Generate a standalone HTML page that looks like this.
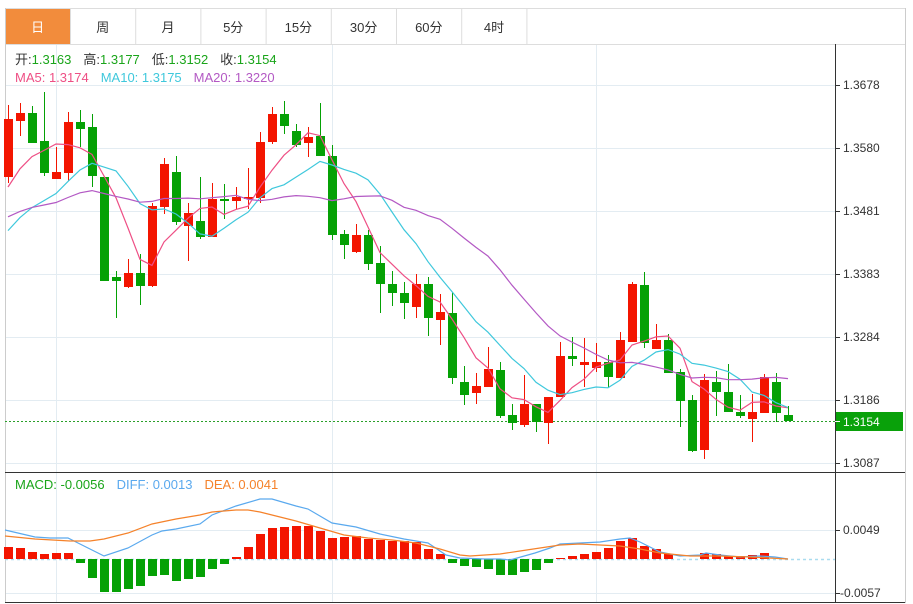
<!DOCTYPE html>
<html><head><meta charset="utf-8"><style>
body{margin:0;width:913px;height:604px;overflow:hidden;background:#fff;font-family:"Liberation Sans","Noto Sans CJK SC",sans-serif;}
svg{position:absolute;left:0;top:0}
</style></head><body>
<svg id="s" width="913" height="604" xmlns="http://www.w3.org/2000/svg" font-family="Liberation Sans, Noto Sans CJK SC, sans-serif"></svg>
<script>
var C=[
[177,119,105,183],[121,113,103,136],[113,143,106,143],[141,173,92,176],[179,172,147,179],[173,122,112,181],
[122,129,110,147],[127,176,114,187],[177,281,177,281],[277,281,271,318],[287,273,259,288],[273,286,254,305],
[286,206,203,287],[207,164,158,214],[172,222,156,225],[226,213,203,261],[221,237,177,239],[237,199,183,237],
[199,201,184,219],[201,197,187,209],[199,197,168,209],[198,142,132,203],[142,114,107,144],[114,126,101,134],
[131,145,124,147],[143,137,127,157],[136,156,103,156],[156,235,145,240],[234,245,230,259],[252,235,224,253],
[235,264,230,270],[263,284,246,313],[284,293,271,306],[293,303,282,319],[307,284,274,318],[284,318,277,336],
[320,312,294,345],[313,378,292,384],[382,395,366,405],[393,386,373,404],[387,369,347,387],[370,416,362,418],
[415,423,404,430],[425,404,375,427],[404,422,404,432],[423,397,397,444],[397,356,342,397],[356,359,337,366],
[365,362,338,387],[368,362,343,372],[362,377,355,388],[378,340,332,378],[342,284,282,342],[285,343,272,348],
[349,340,324,349],[340,373,334,373],[372,401,369,427],[400,451,395,452],[450,380,374,459],[382,392,371,416],
[392,412,364,412],[412,416,395,418],[419,412,394,442],[413,377,374,413],[382,413,373,422],[415,421,406,421]];
var H=[547,548,552,554,553,553,563,578,592,592,589,586,576,575,581,579,577,569,564,557,547,534,528,527,526,526,531,538,537,536,539,540,541,541,542,549,554,563,566,567,569,575,575,572,570,563,558,556,554,552,548,541,538,546,549,554,559,559.5,553,554,556,556,555,553,559,559];
var DIFF=[[5,530],[35,537],[50,538],[68,538],[82,545],[104,556],[128,548],[152,535],[162,531],[176,529],[200,524],[212,515],[236,506],[260,499],[272,499],[296,506],[308,509],[332,523],[356,527],[380,534],[404,539],[428,543],[446,555],[460,558],[485,559],[500,559],[510,560],[535,553],[550,548],[560,544],[600,542],[620,539],[630,538],[640,542],[660,552],[680,556],[700,555],[706,553],[720,555],[740,557],[760,556],[775,557],[788,559]];
var DEA=[[5,536],[35,539],[70,541],[90,541],[104,539],[128,533],[152,524],[176,519],[200,515],[212,512],[236,510],[248,510],[260,512],[272,515],[296,521],[320,528],[344,535],[368,538],[392,540],[416,543],[440,549],[460,555],[470,556],[500,554],[520,551],[540,548],[560,545],[580,544],[600,545],[620,546],[640,549],[660,553],[690,556],[720,556],[750,557],[788,559]];
var o='';
function L(x1,y1,x2,y2,c,w,d){o+='<line x1="'+x1+'" y1="'+y1+'" x2="'+x2+'" y2="'+y2+'" stroke="'+c+'" stroke-width="'+(w||1)+'"'+(d?' stroke-dasharray="'+d+'"':'')+'/>';}
function T(x,y,t,c,s,a){o+='<text x="'+x+'" y="'+y+'" fill="'+c+'" font-size="'+(s||12)+'"'+(a?' text-anchor="'+a+'"':'')+'>'+t+'</text>';}
[85,148,211,274,337,400,463,530,593].forEach(function(y){L(5,y+.5,835,y+.5,'#e3ecf2');});
[56,332,596].forEach(function(x){L(x+.5,44,x+.5,603,'#e3ecf2');});
L(5,8.5,905,8.5,'#ddd');L(5,44.5,905,44.5,'#ddd');
var tabs=['日','周','月','5分','15分','30分','60分','4时'];
for(var i=0;i<8;i++){var x=5+i*65.2;if(i==0)o+='<rect x="5" y="9" width="65" height="35" fill="#f28c3c"/>';L(x+65.5,9,x+65.5,44,'#ddd');T(x+32.6,32,tabs[i],i==0?'#fff':'#333',13,'middle');}
L(5.5,8,5.5,603,'#ccc');L(905.5,8,905.5,603,'#ccc');L(835.5,44,835.5,603,'#333');
L(5,472.5,905,472.5,'#333');L(5,602.5,905,602.5,'#333');
var pl=['1.3678','1.3580','1.3481','1.3383','1.3284','1.3186','1.3087'];
pl.forEach(function(t,i){var y=85+i*63;L(835,y+.5,840,y+.5,'#333');T(843,y+4,t,'#333',12);});
L(835,530.5,840,530.5,'#333');T(843,534,'0.0049','#333',12);
L(835,593.5,840,593.5,'#333');T(840,597,'-0.0057','#333',12);
L(5,421.5,835,421.5,'#2aa02a',1,'2,2');
o+='<rect x="836" y="412" width="67" height="19" fill="#09a10a"/>';L(835,421.5,840,421.5,'#fff');T(843,426,'1.3154','#fff',12);
L(5,559.5,835,559.5,'#a9dcef',1.5,'3,3');
C.forEach(function(c,i){var x=8+12*i,up=c[1]<c[0],col=up?'#f31500':'#05a105';var t=Math.min(c[0],c[1]),b=Math.max(c[0],c[1]);
L(x+.5,c[2],x+.5,c[3],col);o+='<rect x="'+(x-4)+'" y="'+t+'" width="9" height="'+Math.max(b-t,2)+'" fill="'+col+'"/>';});
function ma(n,col,pad){var cl=[];for(var k=0;k<19;k++)cl.push(pad);C.forEach(function(c){cl.push(c[1]);});var p=[];
for(var i=0;i<C.length;i++){var s=0;for(var j=0;j<n;j++)s+=cl[i+19-j];p.push((8+12*i)+','+(s/n).toFixed(1));}
o+='<polyline points="'+p.join(' ')+'" fill="none" stroke="'+col+'" stroke-width="1.2"/>';}
ma(5,'#ee4f85',204);ma(10,'#3fc8dc',243);ma(20,'#b359c4',222);
H.forEach(function(y,i){var x=8+12*i;if(Math.abs(y-559)<0.6)return;var col=y<559?'#f31500':'#05a105';var t=Math.min(y,559),b=Math.max(y,559);o+='<rect x="'+(x-4)+'" y="'+t+'" width="9" height="'+(b-t)+'" fill="'+col+'"/>';});
function pl2(a,col){o+='<polyline points="'+a.map(function(p){return p.join(',')}).join(' ')+'" fill="none" stroke="'+col+'" stroke-width="1.2"/>';}
pl2(DIFF,'#5aa9ee');pl2(DEA,'#f5822a');
o+='<text x="15" y="64" font-size="13"><tspan fill="#333">开:</tspan><tspan fill="#1aa51a">1.3163</tspan><tspan fill="#333" dx="12">高:</tspan><tspan fill="#1aa51a">1.3177</tspan><tspan fill="#333" dx="12">低:</tspan><tspan fill="#1aa51a">1.3152</tspan><tspan fill="#333" dx="12">收:</tspan><tspan fill="#1aa51a">1.3154</tspan></text>';
o+='<text x="15" y="82" font-size="13"><tspan fill="#ee4f85">MA5: 1.3174</tspan><tspan fill="#3fc8dc" dx="12">MA10: 1.3175</tspan><tspan fill="#b359c4" dx="12">MA20: 1.3220</tspan></text>';
o+='<text x="15" y="489" font-size="13"><tspan fill="#1aa51a">MACD: -0.0056</tspan><tspan fill="#5aa9ee" dx="12">DIFF: 0.0013</tspan><tspan fill="#f5822a" dx="12">DEA: 0.0041</tspan></text>';
document.getElementById('s').innerHTML=o;
</script>
</body></html>
